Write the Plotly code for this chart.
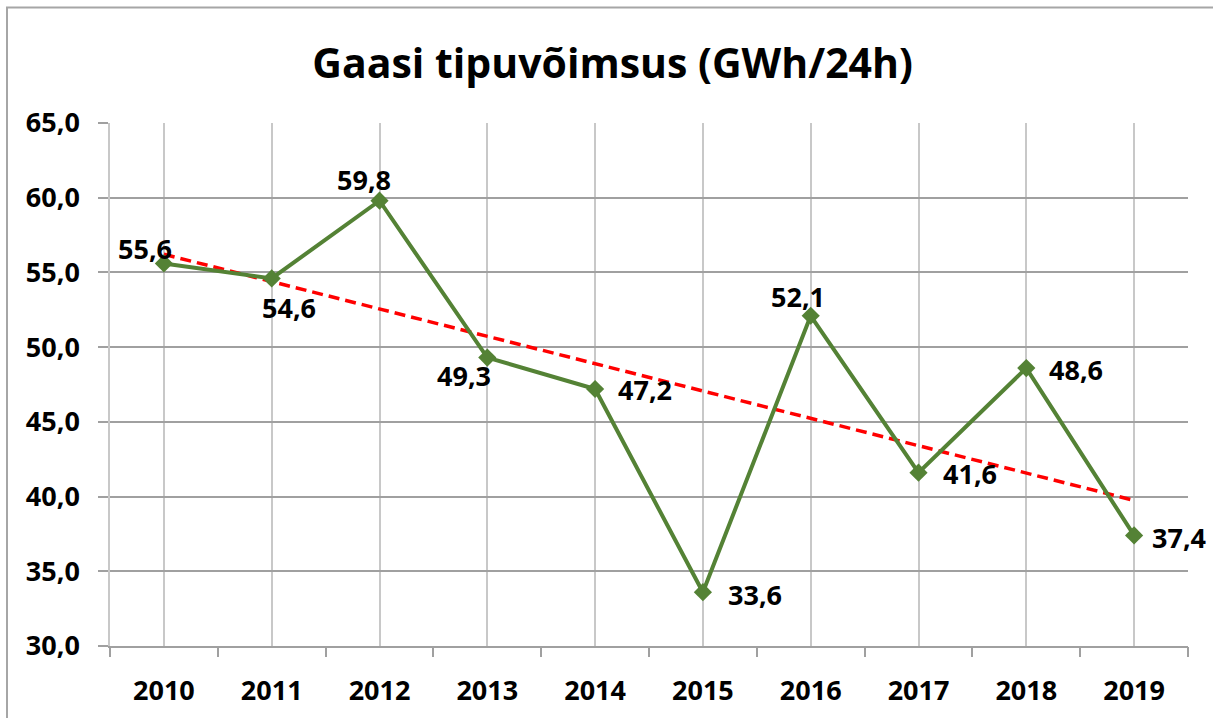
import numpy as np
import plotly.graph_objects as go

# ---- data ----
years = [2010, 2011, 2012, 2013, 2014, 2015, 2016, 2017, 2018, 2019]
values = [55.6, 54.6, 59.8, 49.3, 47.2, 33.6, 52.1, 41.6, 48.6, 37.4]
y_ticks = [30, 35, 40, 45, 50, 55, 60, 65]
title_text = "Gaasi tipuvõimsus (GWh/24h)"

# ---- style ----
GREEN = "#548235"
FONT = "Open Sans"
label_shift = [(-19, 15), (17, -29), (-16, 21), (-23, -18), (50, -1),
               (52, -2), (-13, 19), (51, -1), (50, -1), (45, -2)]

# linear trend (as Excel's linear trendline)
coef = np.polyfit(years, values, 1)
trend = np.polyval(coef, years)

fig = go.Figure()

fig.add_trace(go.Scatter(
    x=years, y=trend, mode="lines",
    line=dict(color="#FF0000", width=3.5, dash="11px,6px"),
    hoverinfo="skip", showlegend=False))

fig.add_trace(go.Scatter(
    x=years, y=values, mode="lines+markers",
    line=dict(color=GREEN, width=4),
    marker=dict(symbol="diamond", size=14, color=GREEN),
    showlegend=False))

# invisible trace to carry the boundary-tick axis
fig.add_trace(go.Scatter(x=[years[0]], y=[values[0]], xaxis="x2",
                         mode="markers", marker=dict(opacity=0),
                         hoverinfo="skip", showlegend=False))

for x, v, (dx, dy) in zip(years, values, label_shift):
    fig.add_annotation(x=x, y=v, text=f"{v:.1f}".replace(".", ","),
                       showarrow=False, xshift=dx, yshift=dy,
                       font=dict(family=FONT, size=27, color="#000000", weight=700))

lo, hi = years[0] - 0.5, years[-1] + 0.5

fig.update_layout(
    width=1213, height=718,
    margin=dict(l=110, r=25, t=123, b=72, autoexpand=False),
    paper_bgcolor="white", plot_bgcolor="white",
    separators=", ",
    font=dict(family=FONT, size=27, color="#000000", weight=700),
    title=dict(text=title_text, x=0.505, xref="container", xanchor="center",
               y=1 - 64 / 718, yref="container", yanchor="middle",
               font=dict(family=FONT, size=41, color="#000000", weight=700)),
    xaxis=dict(range=[lo, hi], tickvals=years, ticktext=[str(y) for y in years],
               showgrid=True, gridcolor="#c8c8c8", gridwidth=1.5,
               ticks="", ticklabelstandoff=20, automargin=False,
               showline=True, linecolor="#a0a0a0", linewidth=1.5,
               zeroline=False),
    xaxis2=dict(range=[lo, hi], overlaying="x", anchor="y", side="bottom",
                tickvals=[y - 0.5 for y in years] + [hi], showticklabels=False,
                ticks="outside", ticklen=10, tickwidth=1.5, tickcolor="#a0a0a0",
                showgrid=False, showline=False, zeroline=False, automargin=False),
    yaxis=dict(range=[30, 65], tickvals=y_ticks, tickformat=".1f",
               showgrid=True, gridcolor="#a0a0a0", gridwidth=1.5,
               ticks="outside", ticklen=10, tickwidth=1.5, tickcolor="#a0a0a0",
               ticklabelstandoff=13, automargin=False,
               showline=True, linecolor="#c8c8c8", linewidth=1.5,
               zeroline=False),
    shapes=[dict(type="rect", xref="paper", yref="paper",
                 x0=(7 - 110) / 1078, x1=1.2, y0=-0.3, y1=(646 - 7.5) / 523,
                 line=dict(color="#a6a6a6", width=2), fillcolor="rgba(0,0,0,0)",
                 layer="below")],
)

fig.write_html("out.html", config={"displayModeBar": False},
               post_script="document.body.style.margin='0';document.body.style.overflow='hidden';")
